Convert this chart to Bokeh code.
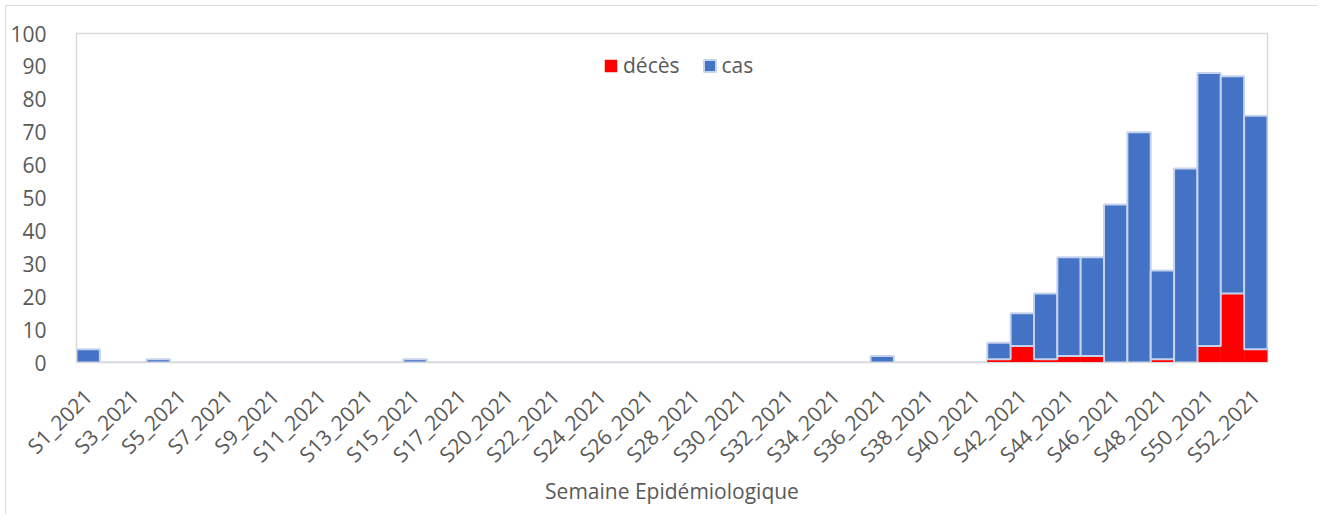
from bokeh.plotting import figure
from bokeh.models import ColumnDataSource, Range1d, FixedTicker
from bokeh.embed import file_html
from bokeh.resources import INLINE
from math import pi

week_numbers = [1, 2, 3, 4, 5, 6, 7, 8, 9, 10,
                11, 12, 13, 14, 15, 16, 17, 18, 20, 21,
                22, 23, 24, 25, 26, 27, 28, 29, 30, 31,
                32, 33, 34, 35, 36, 37, 38, 39, 40, 41,
                42, 43, 44, 45, 46, 47, 48, 49, 50, 51,
                52]
weeks = [f"S{n}_2021" for n in week_numbers]

deces = [0, 0, 0, 0, 0, 0, 0, 0, 0, 0,
         0, 0, 0, 0, 0, 0, 0, 0, 0, 0,
         0, 0, 0, 0, 0, 0, 0, 0, 0, 0,
         0, 0, 0, 0, 0, 0, 0, 0, 0, 1,
         5, 1, 2, 2, 0, 0, 1, 0, 5, 21,
         4]
cas = [4, 0, 0, 1, 0, 0, 0, 0, 0, 0,
       0, 0, 0, 0, 1, 0, 0, 0, 0, 0,
       0, 0, 0, 0, 0, 0, 0, 0, 0, 0,
       0, 0, 0, 0, 2, 0, 0, 0, 0, 5,
       10, 20, 30, 30, 48, 70, 27, 59, 83, 66,
       71]

FONT = "Open Sans"
TXT = "#595959"
GRID = "#d9d9d9"
FS = "21px"

idx = list(range(len(weeks)))
source = ColumnDataSource(dict(x=idx, weeks=weeks, deces=deces, cas=cas))

p = figure(x_range=Range1d(-0.5, len(weeks) - 0.5), y_range=(0, 100),
           frame_width=1191, frame_height=329,
           output_backend="svg", toolbar_location=None,
           min_border_left=70, min_border_right=50, min_border_top=27, min_border_bottom=152)
p.styles = {"border-left": "1px solid #d9d9d9", "border-top": "1px solid #d9d9d9",
            "margin-left": "5px", "margin-top": "5px"}

p.vbar_stack(["deces", "cas"], x="x", width=1.0, source=source,
             color=["#ff0000", "#4472c4"],
             line_color=["#ff0000", "#c5d3ee"], line_width=[0.5, 2],
             legend_label=["décès", "cas"])

p.xgrid.grid_line_color = None
p.ygrid.grid_line_color = None
p.outline_line_color = GRID
p.outline_line_width = 1.5

p.yaxis.ticker = list(range(0, 101, 10))
p.xaxis.ticker = FixedTicker(ticks=idx[::2])
p.xaxis.major_label_overrides = {i: weeks[i] for i in idx[::2]}
for ax in (p.xaxis[0], p.yaxis[0]):
    ax.axis_line_color = GRID
    ax.major_tick_line_color = None
    ax.minor_tick_line_color = None
    ax.major_label_text_font = FONT
    ax.major_label_text_font_size = FS
    ax.major_label_text_color = TXT

p.yaxis.major_label_standoff = 24
p.xaxis.major_label_orientation = pi / 4
p.xaxis.major_label_standoff = 24
p.xaxis.axis_label = "Semaine Epidémiologique"
p.xaxis.axis_label_text_font = FONT
p.xaxis.axis_label_text_font_size = FS
p.xaxis.axis_label_text_font_style = "normal"
p.xaxis.axis_label_text_color = TXT
p.xaxis.axis_label_standoff = -4

lg = p.legend[0]
lg.orientation = "horizontal"
lg.location = (527, 283)
lg.background_fill_alpha = 0
lg.border_line_color = None
lg.label_text_font = FONT
lg.label_text_font_size = FS
lg.label_text_color = TXT
lg.glyph_width = 15
lg.glyph_height = 15
lg.spacing = 22
lg.label_standoff = 5

open("out.html", "w").write(file_html(p, INLINE))
